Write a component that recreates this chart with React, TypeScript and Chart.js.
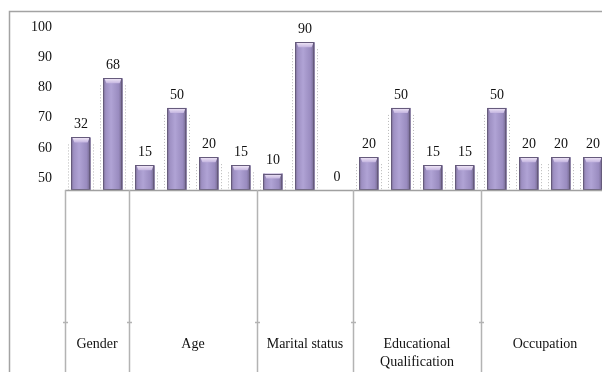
import React, { useEffect, useRef } from 'react';
import { Chart, registerables } from 'chart.js';

Chart.register(...registerables);

// ---- data ----
const groups = ['Gender', 'Age', 'Marital status', 'Educational\nQualification', 'Occupation'];
const groupSizes = [2, 4, 3, 4, 4];
const categories = [
  'Gender 1', 'Gender 2',
  'Age 1', 'Age 2', 'Age 3', 'Age 4',
  'Marital 1', 'Marital 2', 'Marital 3',
  'Education 1', 'Education 2', 'Education 3', 'Education 4',
  'Occupation 1', 'Occupation 2', 'Occupation 3', 'Occupation 4',
];
const values = [32, 68, 15, 50, 20, 15, 10, 90, 0, 20, 50, 15, 15, 50, 20, 20, 20];
const yTickValues = [50, 60, 70, 80, 90, 100];

const CANVAS_W = 620;
const CANVAS_H = 372;
const FONT = "'Liberation Serif', 'Times New Roman', serif";

const decorPlugin = {
  id: 'decor',
  beforeDatasetsDraw(chart: any) {
    const ctx = chart.ctx;
    const meta = chart.getDatasetMeta(0);
    ctx.save();
    ctx.strokeStyle = '#b8b8b8';
    ctx.lineWidth = 1;
    ctx.setLineDash([1, 2]);
    meta.data.forEach((el: any) => {
      const h = el.base - el.y;
      if (h < 1) return;
      const l = el.x - el.width / 2;
      const r = el.x + el.width / 2;
      const top = el.y + 7;
      [l - 3.5, r + 2.5].forEach((xx) => {
        ctx.beginPath();
        ctx.moveTo(Math.round(xx) + 0.5, top);
        ctx.lineTo(Math.round(xx) + 0.5, el.base);
        ctx.stroke();
      });
    });
    ctx.restore();
  },
  afterDatasetsDraw(chart: any) {
    const ctx = chart.ctx;
    const meta = chart.getDatasetMeta(0);
    ctx.save();
    meta.data.forEach((el: any, i: number) => {
      const l = el.x - el.width / 2;
      const r = el.x + el.width / 2;
      const t = el.y;
      const b = el.base;
      if (b - t >= 1) {
        const g = ctx.createLinearGradient(l, 0, r, 0);
        g.addColorStop(0, '#7b6f94');
        g.addColorStop(0.12, '#9e90c3');
        g.addColorStop(0.4, '#b0a3d5');
        g.addColorStop(0.8, '#998bbf');
        g.addColorStop(1, '#6c6186');
        ctx.fillStyle = g;
        ctx.fillRect(l, t, r - l, b - t);
        const bev = Math.min(5, (b - t) / 2);
        const tg = ctx.createLinearGradient(0, t, 0, t + bev);
        tg.addColorStop(0, '#f3eaf8');
        tg.addColorStop(1, '#c4b5e0');
        ctx.fillStyle = tg;
        ctx.beginPath();
        ctx.moveTo(l + 1, t);
        ctx.lineTo(r - 1, t);
        ctx.lineTo(r - 3, t + bev);
        ctx.lineTo(l + 3, t + bev);
        ctx.closePath();
        ctx.fill();
        ctx.strokeStyle = '#665b7c';
        ctx.lineWidth = 1;
        ctx.strokeRect(Math.round(l) + 0.5, Math.round(t) + 0.5, Math.round(r - l) - 1, Math.round(b - t) - 1);
      }
      ctx.fillStyle = '#111';
      ctx.font = `14px ${FONT}`;
      ctx.textAlign = 'center';
      ctx.textBaseline = 'middle';
      ctx.fillText(String(values[i]), el.x, t - 13);
    });
    ctx.restore();
  },
  afterDraw(chart: any) {
    const ctx = chart.ctx;
    const xs = chart.scales.x;
    const area = chart.chartArea;
    const slot = xs.width / categories.length;
    ctx.save();
    // outer frame (left + top)
    ctx.strokeStyle = '#a3a3a3';
    ctx.lineWidth = 1.5;
    ctx.beginPath();
    ctx.moveTo(9.5, CANVAS_H);
    ctx.lineTo(9.5, 11.5);
    ctx.lineTo(CANVAS_W, 11.5);
    ctx.stroke();
    // base line
    ctx.strokeStyle = '#a0a0a0';
    ctx.beginPath();
    ctx.moveTo(area.left, area.bottom + 0.5);
    ctx.lineTo(area.right, area.bottom + 0.5);
    ctx.stroke();
    // group dividers + labels
    let idx = 0;
    const bounds: number[] = [xs.left];
    groupSizes.forEach((n) => {
      idx += n;
      bounds.push(xs.left + idx * slot);
    });
    ctx.strokeStyle = '#b3b3b3';
    bounds.forEach((bx) => {
      const x = Math.round(bx) + 0.5;
      ctx.beginPath();
      ctx.moveTo(x, area.bottom);
      ctx.lineTo(x, CANVAS_H);
      ctx.stroke();
      ctx.beginPath();
      ctx.moveTo(x - 2.5, 322.5);
      ctx.lineTo(x + 2.5, 322.5);
      ctx.stroke();
    });
    ctx.fillStyle = '#111';
    ctx.font = `14px ${FONT}`;
    ctx.textAlign = 'center';
    ctx.textBaseline = 'middle';
    groups.forEach((name, gi) => {
      const cx = (bounds[gi] + bounds[gi + 1]) / 2;
      name.split('\n').forEach((line, li) => {
        ctx.fillText(line, cx, 344 + li * 18);
      });
    });
    ctx.restore();
  },
};

export default function App() {
  const ref = useRef<HTMLCanvasElement | null>(null);
  useEffect(() => {
    if (!ref.current) return;
    const chart = new Chart(ref.current, {
      type: 'bar',
      data: {
        labels: categories,
        datasets: [
          {
            data: values,
            backgroundColor: '#9e90c2',
            borderWidth: 0,
            xAxisID: 'x',
            yAxisID: 'y',
            categoryPercentage: 1,
            barPercentage: 0.6,
          },
        ],
      },
      options: {
        responsive: false,
        animation: false,
        devicePixelRatio: 1,
        layout: { padding: { left: 0, right: CANVAS_W - 609, top: 20, bottom: CANVAS_H - 190 } },
        plugins: { legend: { display: false }, tooltip: { enabled: false } },
        scales: {
          x: { type: 'category', display: false, offset: true, grid: { display: false } },
          y: { type: 'linear', display: false, min: 0, max: 102.7 },
          y2: {
            type: 'linear',
            position: 'left',
            min: 46.05,
            max: 101.97,
            grid: { display: false, drawTicks: false },
            border: { display: false },
            ticks: { color: '#111', font: { family: FONT, size: 14 }, padding: 13 },
            afterBuildTicks: (s: any) => {
              s.ticks = yTickValues.map((v) => ({ value: v }));
            },
            afterFit: (s: any) => {
              s.width = 65;
            },
          },
        },
      },
      plugins: [decorPlugin],
    });
    return () => chart.destroy();
  }, []);
  return (
    <div
      style={{
        position: 'fixed',
        left: 0,
        top: 0,
        width: 602,
        height: 372,
        overflow: 'hidden',
        background: '#fff',
      }}
    >
      <canvas ref={ref} width={CANVAS_W} height={CANVAS_H} style={{ width: CANVAS_W, height: CANVAS_H, display: 'block' }} />
    </div>
  );
}
